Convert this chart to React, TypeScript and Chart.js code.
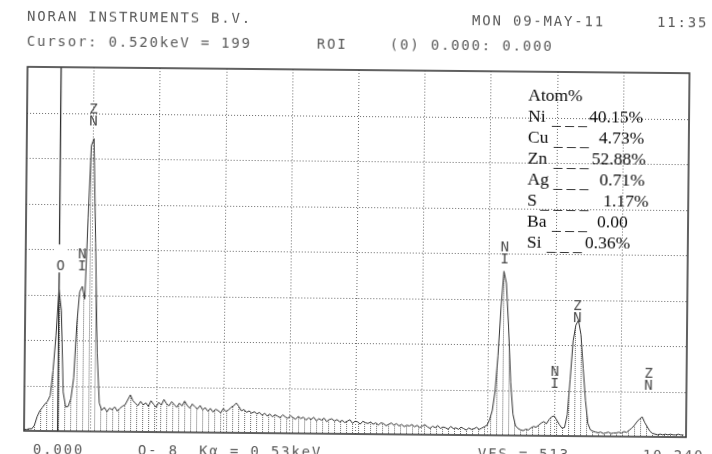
import React, { useEffect, useRef } from "react";
import { Chart, registerables } from "chart.js";

Chart.register(...registerables);

// ---------------- data ----------------
const channelWidthKeV = 0.04;
// counts per 0.04 keV channel, 0 .. 10.24 keV
const counts: number[] = [
  2, 2, 3, 3, 8, 20, 28, 33, 38, 42,
  50, 85, 134, 199, 170, 55, 34, 35, 46, 75,
  150, 196, 204, 186, 300, 402, 412, 265, 110, 40,
  30, 34, 28, 33, 31, 35, 29, 33, 36, 38,
  45, 52, 44, 40, 37, 43, 38, 41, 36, 44,
  39, 35, 42, 38, 46, 40, 37, 43, 39, 35,
  41, 37, 44, 38, 34, 40, 36, 33, 38, 32,
  35, 30, 34, 29, 33, 31, 28, 34, 30, 32,
  36, 38, 42, 37, 31, 33, 29, 31, 28, 30,
  27, 29, 25, 28, 24, 27, 23, 26, 24, 22,
  26, 23, 21, 25, 22, 20, 24, 21, 23, 19,
  22, 20, 23, 18, 21, 19, 22, 17, 20, 21,
  18, 20, 17, 19, 16, 18, 20, 15, 18, 17,
  14, 18, 16, 15, 17, 14, 16, 13, 16, 15,
  12, 14, 16, 13, 15, 12, 14, 11, 13, 12,
  14, 11, 13, 10, 12, 14, 11, 9, 12, 10,
  13, 9, 11, 10, 8, 12, 9, 10, 8, 11,
  9, 7, 10, 8, 9, 11, 8, 10, 12, 14,
  22, 35, 62, 112, 180, 231, 214, 152, 75, 30,
  14, 10, 8, 7, 9, 8, 11, 13, 12, 15,
  18, 20, 17, 23, 27, 28, 22, 16, 11, 12,
  30, 80, 134, 156, 163, 143, 95, 50, 18, 9,
  7, 6, 5, 6, 4, 5, 6, 4, 5, 5,
  6, 5, 7, 6, 9, 12, 16, 21, 25, 28,
  20, 14, 8, 5, 4, 3, 4, 3, 4, 3,
  4, 3, 3, 4, 3, 3,
];
const energyMaxKeV = 10.24;
const countsFullScale = 512;
const xDivisions = 10;
const yDivisions = 8;
const cursorKeV = 0.52;

// element markers on the spectrum
const peakLabelText = ["O", "NI", "ZN", "NI", "NI", "ZN", "ZN"];
const peakLabelKeV = [0.54, 0.874, 1.03, 7.41, 8.2, 8.54, 9.65];
const peakLabelCounts = [226, 227, 431, 242, 67, 160, 66];

// quantification table
const atomElements = ["Ni", "Cu", "Zn", "Ag", "S", "Ba", "Si"];
const atomValues = ["40.15%", "4.73%", "52.88%", "0.71%", "1.17%", "0.00", "0.36%"];
const atomDashes = ["_ _ _", "_ _ _", "_ _ _", "_ _ _", "_ _ _ _", "_ _ _", "_ _ _"];

// header / footer text
const headerLine1Left = "NORAN INSTRUMENTS B.V.";
const headerDate = "MON 09-MAY-11";
const headerTime = "11:35";
const headerCursor = "Cursor: 0.520keV = 199";
const headerRoi = "ROI";
const headerRoiRange = "(0) 0.000: 0.000";
const footerStart = "0.000";
const footerLine = "O- 8  K\u03b1 = 0.53keV";
const footerVfs = "VFS = 513";
const footerEnd = "10.240";

// ---------------- layout ----------------
const W = 712;
const H = 454;
const tableDashX = [551, 553, 553, 553, 540, 552, 547];
const tableValueX = [588, 598, 591, 599, 603, 597, 585];
const tableBaseline0 = 99.5;
const tableRowStep = 21;

const mono: React.CSSProperties = {
  position: "absolute",
  fontFamily: "'DejaVu Sans Mono', monospace",
  fontSize: 14,
  lineHeight: "14px",
  letterSpacing: "1.8px",
  color: "#5a5a5a",
  whiteSpace: "pre",
};
const serif: React.CSSProperties = {
  position: "absolute",
  fontFamily: "'Liberation Serif', 'Times New Roman', serif",
  fontSize: 17.5,
  lineHeight: "17px",
  color: "#0a0a0a",
  whiteSpace: "pre",
};

export default function App() {
  const canvasRef = useRef<HTMLCanvasElement | null>(null);

  useEffect(() => {
    const canvas = canvasRef.current;
    if (!canvas) return;
    const ctx = canvas.getContext("2d");
    if (!ctx) return;

    const pc = document.createElement("canvas");
    pc.width = 6;
    pc.height = 2;
    const pctx = pc.getContext("2d");
    if (pctx) {
      pctx.fillStyle = "rgba(80,80,80,0.85)";
      pctx.fillRect(0, 0, 1, 1);
    }
    const hatch = ctx.createPattern(pc, "repeat") || "rgba(0,0,0,0.1)";

    const points = counts.map((c, i) => ({ x: +(i * channelWidthKeV).toFixed(3), y: c }));

    const edsPlugin = {
      id: "edsDecor",
      beforeDatasetsDraw(chart: any) {
        const { ctx: c, chartArea: a, scales } = chart;
        const x = scales.x;
        const y = scales.y;
        c.save();
        c.strokeStyle = "#6a6a6a";
        c.lineWidth = 1;
        c.setLineDash([1, 2]);
        for (let i = 1; i < xDivisions; i++) {
          const px = Math.round(x.getPixelForValue((i * energyMaxKeV) / xDivisions)) + 0.5;
          c.beginPath();
          c.moveTo(px, a.top);
          c.lineTo(px, a.bottom);
          c.stroke();
        }
        for (let j = 1; j < yDivisions; j++) {
          const py = Math.round(y.getPixelForValue((j * countsFullScale) / yDivisions)) + 0.5;
          c.beginPath();
          c.moveTo(a.left, py);
          c.lineTo(a.right, py);
          c.stroke();
        }
        c.setLineDash([]);
        c.strokeStyle = "#2e2e2e";
        c.lineWidth = 1.3;
        const cx = x.getPixelForValue(cursorKeV);
        c.beginPath();
        c.moveTo(cx, a.top);
        c.lineTo(cx, a.bottom);
        c.stroke();
        c.restore();
      },
      afterDatasetsDraw(chart: any) {
        const { ctx: c, chartArea: a, scales } = chart;
        const x = scales.x;
        const y = scales.y;
        c.save();
        c.strokeStyle = "#3a3a3a";
        c.lineWidth = 1.6;
        c.strokeRect(a.left, a.top, a.right - a.left, a.bottom - a.top);
        c.font = "14px 'DejaVu Sans Mono', monospace";
        c.textAlign = "center";
        c.textBaseline = "alphabetic";
        peakLabelText.forEach((t, i) => {
          const px = x.getPixelForValue(peakLabelKeV[i]);
          const py = y.getPixelForValue(peakLabelCounts[i]);
          const chars = t.split("");
          const n = chars.length;
          if (t === "O") {
            c.fillStyle = "#ffffff";
            c.fillRect(px - 6, py - 26, 12, 28);
          }
          c.fillStyle = "#4a4a4a";
          chars.forEach((ch, k) => {
            c.fillText(ch, px, py - (n - 1 - k) * 12);
          });
        });
        c.restore();
      },
    };

    const chart = new Chart(ctx, {
      type: "line",
      data: {
        datasets: [
          {
            data: points,
            borderColor: "#333333",
            borderWidth: 1,
            pointRadius: 0,
            tension: 0,
            fill: "origin",
            backgroundColor: hatch as any,
          },
        ],
      },
      options: {
        responsive: false,
        animation: false,
        events: [],
        layout: { padding: { left: 26, right: 24, top: 70, bottom: 20 } },
        plugins: { legend: { display: false }, tooltip: { enabled: false } },
        scales: {
          x: { type: "linear", min: 0, max: energyMaxKeV, display: false },
          y: { type: "linear", min: 0, max: countsFullScale, display: false },
        },
      },
      plugins: [edsPlugin],
    });
    return () => chart.destroy();
  }, []);

  return (
    <div style={{ position: "fixed", left: 0, top: 0, width: W, height: H, overflow: "hidden", background: "#fff" }}>
      <div
        style={{
          position: "absolute",
          left: 0,
          top: 0,
          width: W,
          height: H,
          transform: "rotate(0.55deg)",
          transformOrigin: "356px 227px",
        }}
      >
        <canvas ref={canvasRef} width={W} height={H} style={{ position: "absolute", left: 0, top: 0, width: W, height: H }} />
        <div style={{ ...mono, left: 25, top: 12.4 }}>{headerLine1Left}</div>
        <div style={{ ...mono, left: 470, top: 12.4 }}>{headerDate}</div>
        <div style={{ ...mono, left: 655, top: 12.4 }}>{headerTime}</div>
        <div style={{ ...mono, left: 25, top: 36.6 }}>{headerCursor}</div>
        <div style={{ ...mono, left: 315, top: 36.6 }}>{headerRoi}</div>
        <div style={{ ...mono, left: 388, top: 36.6 }}>{headerRoiRange}</div>
        <div style={{ ...mono, left: 35, top: 445 }}>{footerStart}</div>
        <div style={{ ...mono, left: 140, top: 445 }}>{footerLine}</div>
        <div style={{ ...mono, left: 480, top: 445 }}>{footerVfs}</div>
        <div style={{ ...mono, left: 645, top: 445 }}>{footerEnd}</div>

        <div style={{ ...serif, left: 527, top: tableBaseline0 - 14.25 }}>Atom%</div>
        {atomElements.map((el, i) => {
          const base = tableBaseline0 + tableRowStep * (i + 1);
          return (
            <React.Fragment key={el}>
              <div style={{ ...serif, left: 527, top: base - 14.25 }}>{el}</div>
              <div style={{ ...serif, left: tableDashX[i], top: base - 14.25 + 3 }}>{atomDashes[i]}</div>
              <div style={{ ...serif, left: tableValueX[i], top: base - 14.25 }}>{atomValues[i]}</div>
            </React.Fragment>
          );
        })}
      </div>
    </div>
  );
}
